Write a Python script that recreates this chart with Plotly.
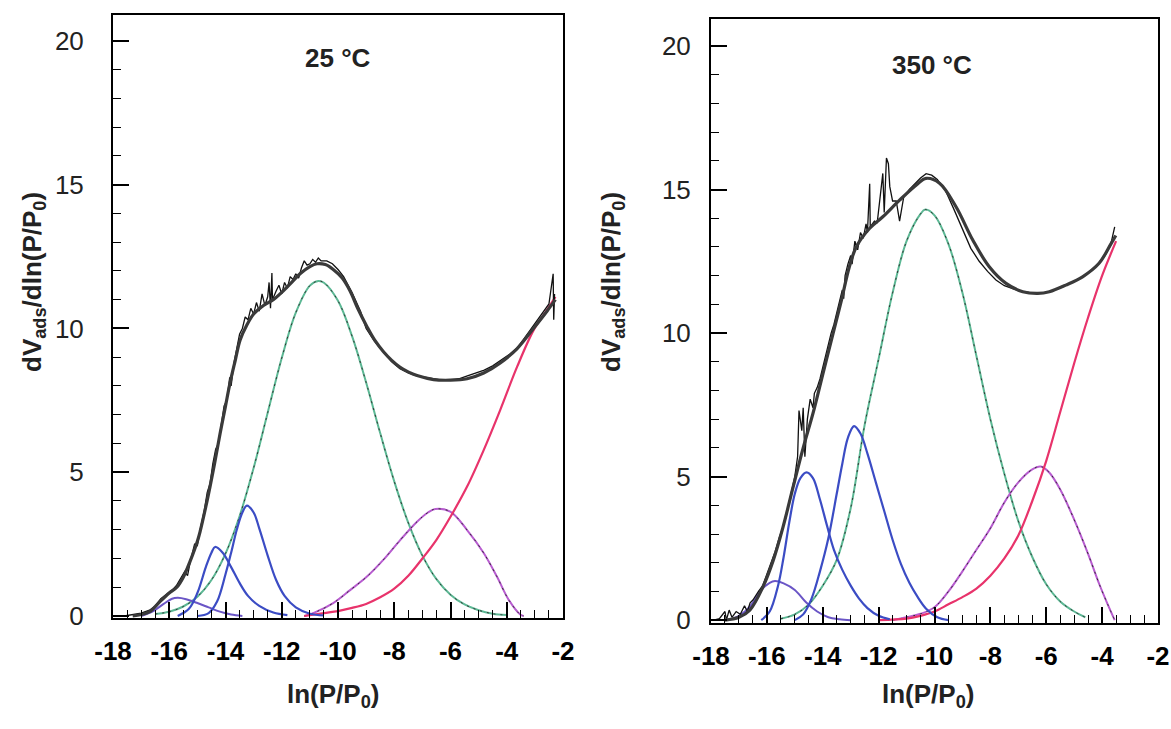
import plotly.graph_objects as go

# ---------------- 25 °C panel ----------------
L_p1_x = [-17.0, -16.6, -16.2, -15.9, -15.69, -15.4, -15.0, -14.6, -14.2, -13.8, -13.4]
L_p1_y = [0.0, 0.15, 0.42, 0.6, 0.63, 0.58, 0.45, 0.3, 0.15, 0.05, 0.0]

L_p2_x = [-15.7, -15.3, -15.0, -14.7, -14.5, -14.37, -14.1, -13.8, -13.5, -13.2, -12.8, -12.3, -11.8]
L_p2_y = [0.0, 0.25, 0.8, 1.7, 2.2, 2.4, 2.2, 1.7, 1.15, 0.7, 0.35, 0.12, 0.03]

L_p3_x = [-15.0, -14.6, -14.3, -14.0, -13.8, -13.6, -13.4, -13.24, -13.0, -12.8, -12.5, -12.2, -11.9, -11.5, -11.0, -10.5]
L_p3_y = [0.0, 0.1, 0.5, 1.45, 2.2, 3.0, 3.6, 3.84, 3.6, 3.05, 2.1, 1.25, 0.7, 0.3, 0.08, 0.02]

L_green_x = [-16.5, -16.0, -15.5, -15.0, -14.5, -14.0, -13.5, -13.0, -12.5, -12.0, -11.5, -11.0, -10.7,
             -10.5, -10.0, -9.5, -9.0, -8.5, -8.0, -7.5, -7.0, -6.5, -6.0, -5.5, -5.0, -4.5, -4.0]
L_green_y = [0.07, 0.15, 0.33, 0.67, 1.25, 2.17, 3.47, 5.15, 7.07, 8.97, 10.55, 11.49, 11.65,
             11.59, 10.96, 9.73, 8.12, 6.36, 4.68, 3.24, 2.1, 1.28, 0.74, 0.4, 0.2, 0.08, 0.03]

L_purple_x = [-11.2, -10.88, -10.17, -9.57, -8.97, -8.39, -7.79, -7.19, -6.8, -6.54, -6.01, -5.41, -4.82, -4.35, -3.93, -3.52, -3.4]
L_purple_y = [0.0, 0.1, 0.45, 0.9, 1.37, 1.95, 2.64, 3.28, 3.6, 3.72, 3.63, 2.99, 2.19, 1.37, 0.56, 0.05, 0.0]

L_red_x = [-11.2, -10.5, -10.0, -9.5, -9.0, -8.5, -8.0, -7.5, -7.0, -6.5, -6.0, -5.41, -4.82, -4.23, -3.63, -3.04, -2.6, -2.27]
L_red_y = [0.0, 0.1, 0.17, 0.28, 0.42, 0.65, 0.95, 1.4, 2.0, 2.65, 3.45, 4.5, 5.77, 7.17, 8.67, 9.95, 10.6, 11.1]

L_fit_x = [-17.3, -17.0, -16.7, -16.33, -16.0, -15.73, -15.5, -15.26, -15.0, -14.9, -14.7, -14.55, -14.37, -14.19,
           -14.0, -13.84, -13.65, -13.48, -13.25, -13.0, -12.65, -12.3, -12.06, -11.7, -11.35, -11.0, -10.75,
           -10.45, -10.17, -9.85, -9.57, -9.3, -8.97, -8.7, -8.39, -8.1, -7.79, -7.49, -7.19, -6.6, -6.01,
           -5.41, -4.82, -4.23, -3.63, -3.05, -2.57, -2.27]
L_fit_y = [0.0, 0.05, 0.15, 0.5, 0.8, 1.0, 1.35, 1.9, 2.6, 2.95, 3.8, 4.5, 5.4, 6.36,
           7.3, 8.1, 8.9, 9.6, 10.1, 10.5, 10.8, 11.0, 11.2, 11.55, 11.9, 12.15, 12.25,
           12.22, 12.05, 11.75, 11.3, 10.7, 10.06, 9.6, 9.2, 8.9, 8.65, 8.48, 8.36, 8.22, 8.2,
           8.25, 8.45, 8.8, 9.3, 10.0, 10.6, 11.0]

L_data_x = [-17.6, -17.3, -17.0, -16.7, -16.5, -16.3, -16.1, -15.9, -15.75, -15.6, -15.45, -15.35, -15.25,
            -15.1, -15.0, -14.9, -14.75, -14.65, -14.55, -14.45, -14.35, -14.25, -14.15, -14.05, -13.95,
            -13.85, -13.8, -13.7, -13.6, -13.5, -13.4, -13.3, -13.2, -13.1, -13.0, -12.9, -12.8, -12.7,
            -12.6, -12.5, -12.45, -12.4, -12.35, -12.33, -12.2, -12.1, -12.0, -11.9, -11.8, -11.7, -11.6,
            -11.5, -11.4, -11.3, -11.2, -11.1, -11.0, -10.9, -10.8, -10.7, -10.6, -10.4, -10.2, -10.0,
            -9.8, -9.5, -9.2, -9.0, -8.7, -8.4, -8.1, -7.8, -7.5, -7.2, -6.9, -6.6, -6.3, -6.0, -5.7,
            -5.4, -5.1, -4.8, -4.5, -4.2, -3.9, -3.6, -3.3, -3.0, -2.7, -2.5, -2.35, -2.33, -2.3]
L_data_y = [0.0, 0.05, 0.1, 0.2, 0.35, 0.6, 0.75, 0.9, 1.05, 1.3, 1.55, 1.4, 1.9,
            2.5, 2.45, 3.0, 3.7, 4.3, 4.6, 5.3, 5.8, 6.0, 6.7, 7.3, 7.5,
            8.3, 8.0, 8.8, 9.3, 9.8, 10.0, 10.4, 10.3, 10.7, 10.5, 10.9, 10.6, 11.2,
            10.8, 11.1, 11.6, 10.7, 11.93, 11.0, 11.3, 11.5, 11.2, 11.6, 11.4, 11.8, 11.7,
            11.9, 11.75, 12.1, 12.35, 12.2, 12.25, 12.4, 12.3, 12.45, 12.35, 12.35, 12.25, 12.05,
            11.8, 11.25, 10.6, 10.0, 9.55, 9.2, 8.85, 8.6, 8.45, 8.35, 8.3, 8.25, 8.2, 8.22, 8.25,
            8.35, 8.45, 8.55, 8.7, 8.9, 9.1, 9.35, 9.75, 10.15, 10.55, 10.85, 11.9, 10.3, 11.2]

# ---------------- 350 °C panel ----------------
R_p1_x = [-17.4, -17.0, -16.6, -16.2, -15.9, -15.71, -15.4, -15.0, -14.6, -14.2, -13.8, -13.4, -13.0]
R_p1_y = [0.0, 0.15, 0.48, 1.05, 1.3, 1.36, 1.28, 1.05, 0.62, 0.3, 0.1, 0.03, 0.0]

R_p2_x = [-16.2, -15.9, -15.6, -15.4, -15.2, -15.0, -14.8, -14.58, -14.35, -14.1, -13.85, -13.6, -13.3, -13.0, -12.7, -12.4, -12.0, -11.6]
R_p2_y = [0.0, 0.3, 1.2, 2.2, 3.4, 4.4, 4.95, 5.15, 4.95, 4.2, 3.3, 2.45, 1.75, 1.2, 0.75, 0.42, 0.15, 0.03]

R_p3_x = [-15.0, -14.7, -14.4, -14.1, -13.8, -13.5, -13.3, -13.1, -12.88, -12.65, -12.4, -12.1, -11.8, -11.5, -11.2, -10.9, -10.6, -10.3, -9.9, -9.5]
R_p3_y = [0.0, 0.2, 0.75, 1.7, 2.85, 4.4, 5.45, 6.35, 6.76, 6.5, 5.8, 4.8, 3.8, 2.8, 1.95, 1.3, 0.8, 0.4, 0.1, 0.0]

R_green_x = [-15.5, -15.0, -14.5, -14.0, -13.5, -13.0, -12.5, -12.0, -11.5, -11.0, -10.5, -10.33,
             -10.0, -9.5, -9.0, -8.5, -8.0, -7.5, -7.0, -6.5, -6.0, -5.5, -5.0, -4.6]
R_green_y = [0.05, 0.2, 0.55, 1.2, 2.1, 3.9, 6.8, 9.1, 11.4, 13.2, 14.15, 14.3,
             14.1, 13.1, 11.4, 9.2, 7.0, 5.1, 3.45, 2.2, 1.25, 0.65, 0.3, 0.1]

R_purple_x = [-11.5, -11.0, -10.5, -10.0, -9.5, -9.0, -8.5, -8.0, -7.5, -7.0, -6.5, -6.2, -5.9, -5.5, -5.0, -4.5, -4.1, -3.8, -3.55]
R_purple_y = [0.0, 0.1, 0.22, 0.45, 1.0, 1.7, 2.45, 3.2, 4.1, 4.8, 5.25, 5.35, 5.15, 4.55, 3.5, 2.3, 1.25, 0.55, 0.0]

R_red_x = [-12.0, -11.0, -10.5, -10.0, -9.5, -9.0, -8.5, -8.0, -7.5, -7.0, -6.5, -6.0, -5.5, -5.0, -4.5, -4.0, -3.5]
R_red_y = [0.0, 0.05, 0.15, 0.3, 0.55, 0.8, 1.1, 1.55, 2.15, 2.95, 4.15, 5.55, 7.25, 8.95, 10.55, 12.0, 13.2]

R_fit_x = [-17.5, -17.0, -16.61, -16.14, -15.77, -15.42, -15.06, -14.7, -14.35, -13.99, -13.63, -13.33, -13.05,
           -12.8, -12.32, -11.85, -11.25, -10.65, -10.3, -9.82, -9.23, -8.63, -8.04, -7.44, -6.84, -6.3,
           -5.89, -5.3, -4.7, -4.11, -3.69, -3.51]
R_fit_y = [0.0, 0.1, 0.35, 1.16, 2.09, 3.25, 4.64, 6.0, 7.2, 8.6, 9.99, 11.15, 12.3,
           13.0, 13.65, 14.05, 14.63, 15.16, 15.39, 15.22, 14.4, 13.24, 12.31, 11.73, 11.44, 11.38,
           11.44, 11.67, 11.96, 12.43, 13.1, 13.4]

R_data_x = [-17.9, -17.7, -17.5, -17.45, -17.35, -17.25, -17.1, -16.95, -16.8, -16.7, -16.6, -16.5, -16.3,
            -16.15, -16.0, -15.85, -15.7, -15.55, -15.4, -15.25, -15.1, -15.0, -14.9, -14.85, -14.75,
            -14.7, -14.64, -14.55, -14.45, -14.35, -14.3, -14.2, -14.1, -14.0, -13.9, -13.8, -13.7, -13.6,
            -13.5, -13.4, -13.3, -13.25, -13.2, -13.1, -13.0, -12.95, -12.85, -12.75, -12.65, -12.55,
            -12.45, -12.4, -12.32, -12.3, -12.15, -12.05, -11.95, -11.85, -11.8, -11.72, -11.65, -11.6,
            -11.5, -11.37, -11.25, -11.1, -10.9, -10.7, -10.5, -10.3, -10.1, -9.9, -9.6, -9.3, -9.0,
            -8.7, -8.4, -8.1, -7.8, -7.5, -7.2, -6.9, -6.6, -6.3, -6.0, -5.7, -5.4, -5.1, -4.8, -4.5,
            -4.2, -3.9, -3.7, -3.55]
R_data_y = [0.0, 0.05, 0.3, 0.0, 0.35, 0.1, 0.3, 0.2, 0.5, 0.3, 0.6, 0.7, 1.0,
            1.2, 1.6, 2.0, 2.4, 2.9, 3.3, 3.9, 4.5, 5.0, 5.7, 7.3, 6.6,
            7.4, 5.69, 7.0, 7.7, 7.4, 7.9, 8.1, 8.4, 8.8, 9.3, 9.6, 10.0, 10.3,
            10.7, 11.0, 11.5, 11.2, 12.0, 12.4, 12.7, 12.4, 13.2, 12.9, 13.5, 13.3,
            13.8, 13.5, 15.2, 13.7, 13.9, 13.85, 14.7, 15.56, 14.2, 16.1, 15.9, 15.1,
            14.6, 14.6, 13.9, 14.75, 15.0, 15.2, 15.4, 15.55, 15.5, 15.35, 14.95, 14.3, 13.6,
            12.95, 12.5, 12.15, 11.85, 11.65, 11.55, 11.45, 11.42, 11.4, 11.42, 11.5, 11.62, 11.75, 11.9, 12.1,
            12.35, 12.7, 13.05, 13.7]

X_TICKS = [-18, -16, -14, -12, -10, -8, -6, -4, -2]
X_TICK_TEXT = ["-18", "-16", "-14", "-12", "-10", "-8", "-6", "-4", "-2"]
Y_TICKS = [0, 5, 10, 15, 20]
PANEL_TITLES = ["25 °C", "350 °C"]

FONT = "Liberation Sans, Arial, sans-serif"
C_BLUE = "#3b4cc4"
C_P1 = "#6a55c6"
C_GREEN = "#5cb894"
C_PURPLE = "#b85cd0"
C_RED = "#e8336b"
C_FIT = "#3a3a3a"
C_DATA = "#111111"

fig = go.Figure()


def add_panel(xa, ya, p1x, p1y, p2x, p2y, p3x, p3y, gx, gy, px, py, rx, ry, fx, fy, dx, dy):
    kw = dict(xaxis=xa, yaxis=ya, mode="lines", showlegend=False, hoverinfo="skip")
    fig.add_trace(go.Scatter(x=gx, y=gy, line=dict(color=C_GREEN, width=2.0, shape="spline"), **kw))
    fig.add_trace(go.Scatter(x=gx, y=gy, line=dict(color="#333333", width=1.0, dash="2px,5px", shape="spline"), **kw))
    fig.add_trace(go.Scatter(x=px, y=py, line=dict(color=C_PURPLE, width=2.0, shape="spline"), **kw))
    fig.add_trace(go.Scatter(x=px, y=py, line=dict(color="#333333", width=1.0, dash="2px,5px", shape="spline"), **kw))
    fig.add_trace(go.Scatter(x=rx, y=ry, line=dict(color=C_RED, width=2.2, shape="spline"), **kw))
    fig.add_trace(go.Scatter(x=p1x, y=p1y, line=dict(color=C_P1, width=2.0, shape="spline"), **kw))
    fig.add_trace(go.Scatter(x=p2x, y=p2y, line=dict(color=C_BLUE, width=2.2, shape="spline"), **kw))
    fig.add_trace(go.Scatter(x=p3x, y=p3y, line=dict(color=C_BLUE, width=2.2, shape="spline"), **kw))
    fig.add_trace(go.Scatter(x=dx, y=dy, line=dict(color=C_DATA, width=1.3), **kw))
    fig.add_trace(go.Scatter(x=fx, y=fy, line=dict(color=C_FIT, width=3.2, shape="spline"), **kw))


add_panel("x", "y", L_p1_x, L_p1_y, L_p2_x, L_p2_y, L_p3_x, L_p3_y, L_green_x, L_green_y,
          L_purple_x, L_purple_y, L_red_x, L_red_y, L_fit_x, L_fit_y, L_data_x, L_data_y)
add_panel("x2", "y2", R_p1_x, R_p1_y, R_p2_x, R_p2_y, R_p3_x, R_p3_y, R_green_x, R_green_y,
          R_purple_x, R_purple_y, R_red_x, R_red_y, R_fit_x, R_fit_y, R_data_x, R_data_y)

# the page body margin is removed after plotting (post_script), so the figure fills the window
W, H = 1171, 729


def sx(px):
    return px / W


def sy(py):
    return 1 - py / H


def xax(domain):
    return dict(domain=domain, range=[-18, -2], tickmode="array", tickvals=X_TICKS, ticktext=X_TICK_TEXT,
                ticks="inside", ticklen=16, tickwidth=1.5, tickcolor="black", automargin=False,
                ticklabeloverflow="allow",
                minor=dict(tickmode="linear", tick0=-18, dtick=0.5, ticks="inside", ticklen=8,
                           tickwidth=1.3, tickcolor="black"),
                showline=True, linecolor="black", linewidth=2, mirror=True, showgrid=False, zeroline=False,
                tickfont=dict(family=FONT, size=26, color="black", weight="bold"), ticklabelstandoff=9)


def yax(domain, anchor, standoff, rng):
    return dict(domain=domain, anchor=anchor, range=rng, tickmode="array", tickvals=Y_TICKS,
                ticktext=[str(v) for v in Y_TICKS], automargin=False,
                ticks="inside", ticklen=16, tickwidth=1.5, tickcolor="black",
                minor=dict(tickmode="linear", tick0=0, dtick=1, ticks="inside", ticklen=8,
                           tickwidth=1.3, tickcolor="black"),
                showline=True, linecolor="black", linewidth=2, mirror=True, showgrid=False, zeroline=False,
                tickfont=dict(family=FONT, size=26, color="#222222"), ticklabelstandoff=standoff)


fig.update_layout(
    width=W, height=H, margin=dict(l=0, r=0, t=0, b=0, autoexpand=False),
    paper_bgcolor="white", plot_bgcolor="white",
    xaxis=dict(anchor="y", **xax([sx(113), sx(563)])),
    xaxis2=dict(anchor="y2", **xax([sx(711), sx(1158)])),
    yaxis=yax([sy(618), sy(15)], "x", 22, [-0.07, 20.9]),
    yaxis2=yax([sy(623), sy(19)], "x2", 13, [-0.1, 20.94]),
)

ann_font = dict(family=FONT, size=26, color="#222222", weight="bold")
ytitle = "dV<sub>ads</sub>/dln(P/P<sub>0</sub>)"
xtitle = "ln(P/P<sub>0</sub>)"
annots = [
    dict(text=PANEL_TITLES[0], x=sx(338), y=sy(58)),
    dict(text=PANEL_TITLES[1], x=sx(932), y=sy(65)),
    dict(text=xtitle, x=sx(333), y=sy(695)),
    dict(text=xtitle, x=sx(928), y=sy(695)),
    dict(text=ytitle, x=sx(33), y=sy(282), textangle=-90),
    dict(text=ytitle, x=sx(612), y=sy(282), textangle=-90),
]
for a in annots:
    fig.add_annotation(xref="paper", yref="paper", showarrow=False, xanchor="center", yanchor="middle",
                       font=ann_font, **a)

fig.write_html("out.html", config={"displayModeBar": False},
               post_script="document.body.style.margin='0';document.body.style.overflow='hidden';")
